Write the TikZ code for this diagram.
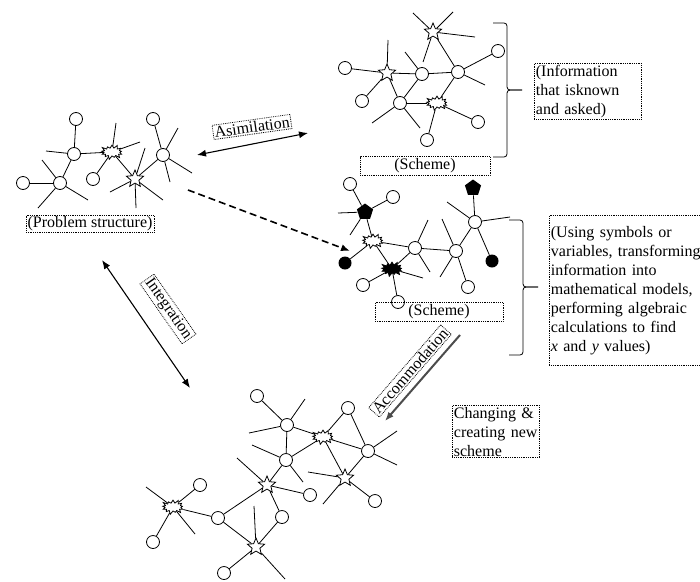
\documentclass[tikz,border=0pt]{standalone}
\usepackage{fontspec}
\setmainfont{Liberation Serif}
\usetikzlibrary{shapes,arrows.meta}
\tikzstyle{ring}   = [circle, draw, fill=white, minimum size=13pt, inner sep=0pt]
\tikzstyle{dot}    = [circle, fill=black, minimum size=13pt, inner sep=0pt]
\tikzstyle{pent}   = [regular polygon, regular polygon sides=5, fill=black, minimum size=17pt, inner sep=0pt]
\tikzstyle{fstar}  = [star, star points=5, star point ratio=2.2, draw, fill=white, minimum size=18pt, inner sep=0pt]
\tikzstyle{burst}  = [starburst, starburst points=13, starburst point height=4pt, draw, fill=white, minimum width=24pt, minimum height=16pt, inner sep=0pt]
\tikzstyle{dburst} = [burst, fill=black]
\tikzstyle{tag}    = [draw, densely dotted, inner sep=1.5pt]
\tikzstyle{ptr}    = [draw, line width=1.1pt, -{Latex[length=9pt,width=7pt]}]
\tikzstyle{dptr}   = [draw, line width=1.1pt, {Latex[length=9pt,width=7pt]}-{Latex[length=9pt,width=7pt]}]

\begin{document}
\begin{tikzpicture}[x=1pt, y=-1pt, line width=0.8pt, font=\fontsize{16}{19}\selectfont]
    \useasboundingbox (0,0) rectangle (700,581);

    % scheme: information known and asked
    \node[fstar] (a1)  at (433,32)  {};
    \node[ring]  (a2)  at (498,51)  {};
    \node[ring]  (a3)  at (458,72)  {};
    \node[ring]  (a4)  at (422,74)  {};
    \node[fstar] (a5)  at (387,73)  {};
    \node[ring]  (a6)  at (345,68)  {};
    \node[ring]  (a7)  at (362,101) {};
    \node[ring]  (a8)  at (400,103) {};
    \node[burst] (a9)  at (437,103) {};
    \node[ring]  (a10) at (478,122) {};
    \node[ring]  (a11) at (427,140) {};
    \foreach \u/\v in {a1/a3, a3/a2, a3/a4, a3/a9, a4/a5, a4/a8, a5/a6, a5/a7, a5/a8, a8/a9, a9/a10, a9/a11}
        \draw (\u) -- (\v);
    \foreach \dx/\dy in {-20/-19, 20/-20, 42/5, -10/30} \draw (a1) -- +(\dx,\dy);
    \draw (a3) -- +(27,13);
    \draw (a4) -- +(-17,-22);
    \draw (a5) -- +(1,-33);
    \foreach \dx/\dy in {-28/20, 20/25} \draw (a8) -- +(\dx,\dy);
    \node[tag, minimum width=130pt, minimum height=19pt] (sch1) at (425,166) {(Scheme)};

    % problem structure
    \node[ring]  (p1) at (76,119)  {};
    \node[ring]  (p2) at (74,154)  {};
    \node[ring]  (p3) at (60,183)  {};
    \node[ring]  (p4) at (23,183)  {};
    \node[burst] (p5) at (112,152) {};
    \node[ring]  (p6) at (93,179)  {};
    \node[fstar] (p7) at (135,179) {};
    \node[ring]  (p8) at (163,155) {};
    \node[ring]  (p9) at (153,119) {};
    \foreach \u/\v in {p1/p2, p2/p5, p2/p3, p3/p4, p5/p6, p5/p7, p7/p8, p8/p9}
        \draw (\u) -- (\v);
    \draw (p2) -- +(-28,-3);
    \foreach \dx/\dy in {-18/-23, -22/25, 28/17} \draw (p3) -- +(\dx,\dy);
    \foreach \dx/\dy in {4/-29, 28/-10} \draw (p5) -- +(\dx,\dy);
    \foreach \dx/\dy in {10/-31, -25/13, 1/29, 28/21} \draw (p7) -- +(\dx,\dy);
    \foreach \dx/\dy in {15/-27, 29/18, 7/27} \draw (p8) -- +(\dx,\dy);
    \node[tag] (prob) at (90,224) {(Problem structure)};

    % scheme: symbols and models
    \node[ring]   (s1)  at (350,184) {};
    \node[ring]   (s2)  at (393,197) {};
    \node[pent]   (s3)  at (365,212) {};
    \node[burst]  (s4)  at (373,241) {};
    \node[dot]    (s5)  at (345,263) {};
    \node[dburst] (s6)  at (392,269) {};
    \node[ring]   (s7)  at (363,285) {};
    \node[ring]   (s8)  at (398,302) {};
    \node[ring]   (s9)  at (415,248) {};
    \node[ring]   (s10) at (456,251) {};
    \node[ring]   (s11) at (468,287) {};
    \node[ring]   (s12) at (475,222) {};
    \node[pent]   (s13) at (473,188) {};
    \node[dot]    (s14) at (492,261) {};
    \foreach \u/\v in {s1/s3, s2/s3, s3/s4, s4/s9, s4/s5, s4/s6, s6/s7, s6/s8, s6/s9, s9/s10, s10/s11, s10/s12, s12/s13, s12/s14}
        \draw (\u) -- (\v);
    \foreach \dx/\dy in {-27/1, -15/23} \draw (s3) -- +(\dx,\dy);
    \draw (s6) -- +(31,9);
    \foreach \dx/\dy in {13/-28, 15/24} \draw (s9) -- +(\dx,\dy);
    \foreach \dx/\dy in {-14/-32, -16/26} \draw (s10) -- +(\dx,\dy);
    \foreach \dx/\dy in {-28/-20, 35/-5} \draw (s12) -- +(\dx,\dy);
    \node[tag, minimum width=128pt, minimum height=19pt] (sch2) at (439,312) {(Scheme)};

    % new scheme
    \node[ring]  (n1)  at (257,396) {};
    \node[ring]  (n2)  at (287,425) {};
    \node[burst] (n3)  at (323,437) {};
    \node[ring]  (n4)  at (348,408) {};
    \node[ring]  (n5)  at (368,451) {};
    \node[fstar] (n6)  at (345,478) {};
    \node[ring]  (n7)  at (375,501) {};
    \node[ring]  (n8)  at (286,460) {};
    \node[fstar] (n9)  at (267,485) {};
    \node[ring]  (n10) at (310,495) {};
    \node[ring]  (n11) at (282,517) {};
    \node[ring]  (n12) at (218,518) {};
    \node[burst] (n13) at (173,507) {};
    \node[ring]  (n14) at (200,485) {};
    \node[ring]  (n15) at (153,542) {};
    \node[fstar] (n16) at (256,547) {};
    \node[ring]  (n17) at (224,573) {};
    \foreach \u/\v in {n1/n2, n2/n3, n2/n8, n3/n4, n3/n5, n3/n6, n3/n8, n4/n5, n5/n6, n6/n7, n8/n9, n9/n10, n9/n11, n9/n12, n12/n13, n12/n16, n13/n14, n13/n15, n16/n11, n16/n17}
        \draw (\u) -- (\v);
    \foreach \dx/\dy in {18/-26, -38/8} \draw (n2) -- +(\dx,\dy);
    \foreach \dx/\dy in {29/-20, 29/14} \draw (n5) -- +(\dx,\dy);
    \foreach \dx/\dy in {-37/-6, -22/26} \draw (n6) -- +(\dx,\dy);
    \foreach \dx/\dy in {-34/-15, 17/22} \draw (n8) -- +(\dx,\dy);
    \draw (n9) -- +(-30,-27);
    \foreach \dx/\dy in {-27/-20, 22/27} \draw (n13) -- +(\dx,\dy);
    \foreach \dx/\dy in {-2/-41, 29/32} \draw (n16) -- +(\dx,\dy);

    % braces and notes
    \draw[rounded corners=3pt] (493,23) -| (507,90) -- (522,90);
    \draw[rounded corners=3pt] (522,90) -- (507,90) |- (493,157);
    \draw[rounded corners=3pt] (509,220) -| (523,287) -- (538,287);
    \draw[rounded corners=3pt] (538,287) -- (523,287) |- (509,355);
    \node[tag, anchor=north west, text width=104pt, align=left] (info) at (534,63)
        {(Information\\that isknown\\and asked)};
    \node[tag, anchor=north west, text width=170pt, align=left, minimum height=150pt] (model) at (549,215)
        {(Using symbols or\\variables, transforming\\information into\\mathematical models,\\performing algebraic\\calculations to find\\\textit{x} and \textit{y} values)};
    \node[tag, anchor=north west, text width=84pt, align=left] (chg) at (452,405)
        {Changing \&\\creating new\\scheme};

    % arrows
    \coordinate (asL) at (197,155);
    \coordinate (asR) at (308,133);
    \path[dptr] (asL) -- (asR);
    \node[tag, rotate=8] (asim) at (252,127) {Asimilation};

    \coordinate (dsA) at (188,190);
    \coordinate (dsB) at (350,251);
    \path[ptr, line width=1.6pt, dash pattern=on 7pt off 4pt] (dsA) -- (dsB);

    \coordinate (inT) at (102,260);
    \coordinate (inB) at (190,388);
    \path[dptr] (inT) -- (inB);
    \node[tag, rotate=-55] (integ) at (168,309) {Integration};

    \coordinate (acT) at (460,335);
    \coordinate (acB) at (385,421);
    \path[ptr, line width=2pt, black!70] (acT) -- (acB);
    \node[tag, rotate=49] (accom) at (410,371) {Accommodation};

\end{tikzpicture}
\end{document}
